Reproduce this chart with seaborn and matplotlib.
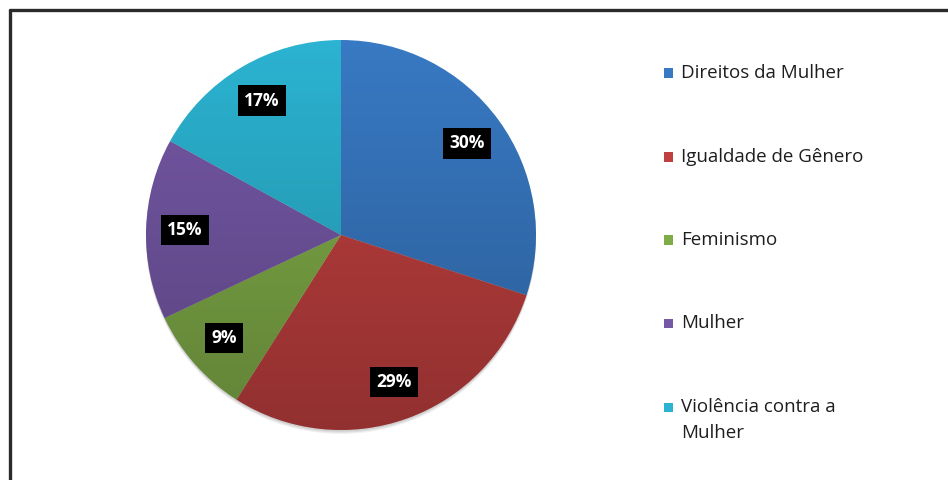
import numpy as np
import matplotlib
matplotlib.use("Agg")
import matplotlib.pyplot as plt
import seaborn as sns
from matplotlib.patches import Circle, Rectangle
from matplotlib.lines import Line2D

sns.set_style("white")
plt.rcParams["font.family"] = ["Open Sans", "DejaVu Sans"]

# Topics and their share of the total (%)
categories = ["Direitos da Mulher", "Igualdade de Gênero", "Feminismo",
              "Mulher", "Violência contra a\nMulher"]
shares = [30, 29, 9, 15, 17]
colors = ["#3879C3", "#BF403F", "#80AC48", "#7558A6", "#2BB3D1"]

W, H, DPI = 948, 480, 100
fig = plt.figure(figsize=(W / DPI, H / DPI), dpi=DPI)
fig.patch.set_facecolor("white")

# Pie axes placed in pixel units
cx, cy, R = 341, 235, 195
half = 205
ax = fig.add_axes([(cx - half) / W, (H - cy - half) / H, 2 * half / W, 2 * half / H])
lim = half / R
ax.axis("off")

# soft drop shadow beneath the pie
for dy, a in [(-0.02, 0.10), (-0.014, 0.12), (-0.008, 0.15)]:
    ax.add_patch(Circle((0, dy), 1.0, facecolor="#707070", edgecolor="none",
                        alpha=a, zorder=0))

wedges, _, autotexts = ax.pie(
    shares, colors=colors, startangle=90, counterclock=False,
    autopct=lambda p: f"{p:.0f}%", pctdistance=0.80,
    wedgeprops=dict(linewidth=0),
    textprops=dict(color="white", fontsize=12.5, fontweight="bold"),
    radius=1.0, frame=False)

for t in autotexts:
    t.set_zorder(5)
    t.set_bbox(dict(facecolor="black", edgecolor="none", pad=4.5))

# vertical shading over the pie, darker toward the bottom
shade = np.zeros((256, 1, 4))
shade[:, 0, 3] = 0.24 * np.linspace(1, 0, 256)
img = ax.imshow(shade, extent=(-1, 1, -1, 1), origin="lower", zorder=3,
                interpolation="bilinear", aspect="auto")
img.set_clip_path(Circle((0, 0), 1.0, transform=ax.transData))

ax.set_xlim(-lim, lim)
ax.set_ylim(-lim, lim)
ax.set_aspect("equal")

# legend drawn in pixel positions
leg_x, text_x = 664, 681
leg_y = [73, 157, 240, 323, 407]
for lab, col, y in zip(categories, colors, leg_y):
    fig.patches.append(Rectangle((leg_x / W, (H - y - 4.5) / H), 9 / W, 9 / H,
                                 transform=fig.transFigure, facecolor=col,
                                 edgecolor="none"))
    lines = lab.split("\n")
    for k, line in enumerate(lines):
        fig.text(text_x / W, (H - y - 26 * k) / H, line, fontsize=13.5,
                 color="#1e1e1e", va="center", ha="left")

# frame lines along the top and left edges
fig.add_artist(Line2D([9.5 / W, 1.0], [1 - 9.5 / H, 1 - 9.5 / H],
                      transform=fig.transFigure, color="#2a2a2a", lw=2.4))
fig.add_artist(Line2D([9.5 / W, 9.5 / W], [0, 1 - 9.5 / H],
                      transform=fig.transFigure, color="#2a2a2a", lw=2.4))

fig.savefig("out.png", dpi=DPI, facecolor="white")
